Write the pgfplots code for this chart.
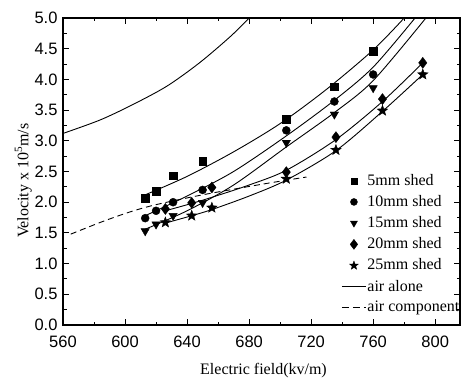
\documentclass[border=0pt]{standalone}
\usepackage{fontspec}
\setmainfont{Liberation Serif}
\newfontfamily\arialfont{Liberation Sans}
\usepackage{pgfplots}
\pgfplotsset{compat=1.18}
\pgfdeclareplotmark{fstar}{%
  \pgfpathmoveto{\pgfpointpolar{90}{\pgfplotmarksize}}%
  \pgfpathlineto{\pgfpointpolar{126}{0.42\pgfplotmarksize}}%
  \pgfpathlineto{\pgfpointpolar{162}{\pgfplotmarksize}}%
  \pgfpathlineto{\pgfpointpolar{198}{0.42\pgfplotmarksize}}%
  \pgfpathlineto{\pgfpointpolar{234}{\pgfplotmarksize}}%
  \pgfpathlineto{\pgfpointpolar{270}{0.42\pgfplotmarksize}}%
  \pgfpathlineto{\pgfpointpolar{306}{\pgfplotmarksize}}%
  \pgfpathlineto{\pgfpointpolar{342}{0.42\pgfplotmarksize}}%
  \pgfpathlineto{\pgfpointpolar{18}{\pgfplotmarksize}}%
  \pgfpathlineto{\pgfpointpolar{54}{0.42\pgfplotmarksize}}%
  \pgfpathclose\pgfusepathqfillstroke}
\pgfplotsset{legend image code/.code={\draw[mark repeat=2,mark phase=2,#1] plot coordinates {(0pt,0pt)(12pt,0pt)(24pt,0pt)};}}
\begin{document}
\fontsize{16}{19}\selectfont
\begin{tikzpicture}
\begin{axis}[
  at={(0,0)}, anchor=south west,
  scale only axis, width=397pt, height=307pt,
  xmin=560, xmax=816, ymin=0, ymax=5,
  xtick={560,600,640,680,720,760,800}, minor x tick num=1,
  ytick={0,0.5,1,1.5,2,2.5,3,3.5,4,4.5,5}, minor y tick num=1,
  tick align=inside,
  major tick length=6pt, minor tick length=3.5pt,
  axis line style={line width=1.2pt},
  every tick/.style={black, line width=1pt},
  tick label style={font=\arialfont\fontsize{16.5}{19}\selectfont},
  /pgf/number format/assume math mode=true,
  yticklabel style={/pgf/number format/.cd, fixed, fixed zerofill, precision=1},
  xticklabel style={/pgf/number format/1000 sep={}, yshift=-5pt},
  xlabel={Electric field(kv/m)},
  xlabel style={at={(axis description cs:0.505,-0.147)}, anchor=center, font=\fontsize{16}{19}\selectfont},
  ylabel={Velocity x 10\textsuperscript{5}m/s},
  ylabel style={at={(axis description cs:-0.1,0.47)}, anchor=center, font=\fontsize{16}{19}\selectfont},
  legend style={draw=none, fill=none, at={(axis description cs:0.701,0.499)}, anchor=north west,
    font=\fontsize{16}{19}\selectfont, inner sep=0pt, row sep=3.7pt, nodes={inner xsep=1pt}},
  legend cell align=left,
]
% data points
\addplot[only marks, mark=square*, mark size=3.8pt, black, forget plot] coordinates {
(613,2.07)(620,2.18)(631,2.43)(650,2.67)(704,3.35)(735,3.88)(760,4.46)};
\addplot[only marks, mark=*, mark size=4pt, black, forget plot] coordinates {
(613,1.74)(620,1.86)(631,2.00)(650,2.20)(704,3.17)(735,3.64)(760,4.08)};
\addplot[only marks, mark=triangle*, mark size=4.8pt, mark options={rotate=180}, black, forget plot] coordinates {
(613,1.53)(620,1.64)(631,1.78)(650,1.99)(704,2.97)(735,3.43)(760,3.86)};
\addplot[only marks, mark=diamond*, mark size=5.5pt, black, forget plot] coordinates {
(626,1.89)(643,1.99)(656,2.24)(704,2.49)(736,3.06)(766,3.68)(792,4.27)};
\addplot[only marks, mark=fstar, mark size=5.5pt, black, forget plot] coordinates {
(626,1.67)(643,1.78)(656,1.91)(704,2.38)(736,2.85)(766,3.49)(792,4.08)};
% fit lines
\addplot[smooth, black, line width=0.9pt, forget plot] coordinates {
(613,2.12)(640,2.42)(670,2.82)(700,3.28)(730,3.84)(760,4.48)(780,5.0)};
\addplot[smooth, black, line width=0.9pt, forget plot] coordinates {
(613,1.78)(640,2.10)(670,2.50)(704,3.08)(735,3.66)(760,4.20)(787,5.0)};
\addplot[smooth, black, line width=0.9pt, forget plot] coordinates {
(613,1.56)(640,1.86)(670,2.28)(704,2.90)(735,3.46)(760,3.98)(794,5.0)};
\addplot[smooth, black, line width=0.9pt, forget plot] coordinates {
(626,1.86)(643,1.98)(656,2.08)(680,2.28)(704,2.52)(736,3.02)(766,3.64)(792,4.27)};
\addplot[smooth, black, line width=0.9pt, forget plot] coordinates {
(626,1.66)(643,1.78)(656,1.88)(680,2.10)(704,2.36)(736,2.84)(766,3.48)(792,4.08)};
% air alone
\addplot[smooth, black, line width=0.9pt, forget plot] coordinates {
(560,3.12)(584,3.34)(605,3.59)(627,3.89)(648,4.27)(668,4.70)(680,5.0)};
% air component
\addplot[smooth, black, line width=0.9pt, dash pattern=on 6pt off 4pt, forget plot] coordinates {
(565,1.48)(585,1.68)(603,1.84)(620,1.96)(650,2.12)(690,2.30)(717,2.41)};
% legend
\addlegendimage{only marks, mark=square*, mark size=3pt, black}
\addlegendentry{5mm shed}
\addlegendimage{only marks, mark=*, mark size=3.5pt, black}
\addlegendentry{10mm shed}
\addlegendimage{only marks, mark=triangle*, mark size=4pt, mark options={rotate=180}, black}
\addlegendentry{15mm shed}
\addlegendimage{only marks, mark=diamond*, mark size=5pt, black}
\addlegendentry{20mm shed}
\addlegendimage{only marks, mark=fstar, mark size=4.5pt, black}
\addlegendentry{25mm shed}
\addlegendimage{black, line width=0.9pt}
\addlegendentry{air alone}
\addlegendimage{black, line width=0.9pt, dash pattern=on 7pt off 4pt}
\addlegendentry{air component}
\end{axis}
\pgfresetboundingbox
\path[use as bounding box] (-63pt,-53pt) rectangle (399pt,325pt);
\end{tikzpicture}
\end{document}
